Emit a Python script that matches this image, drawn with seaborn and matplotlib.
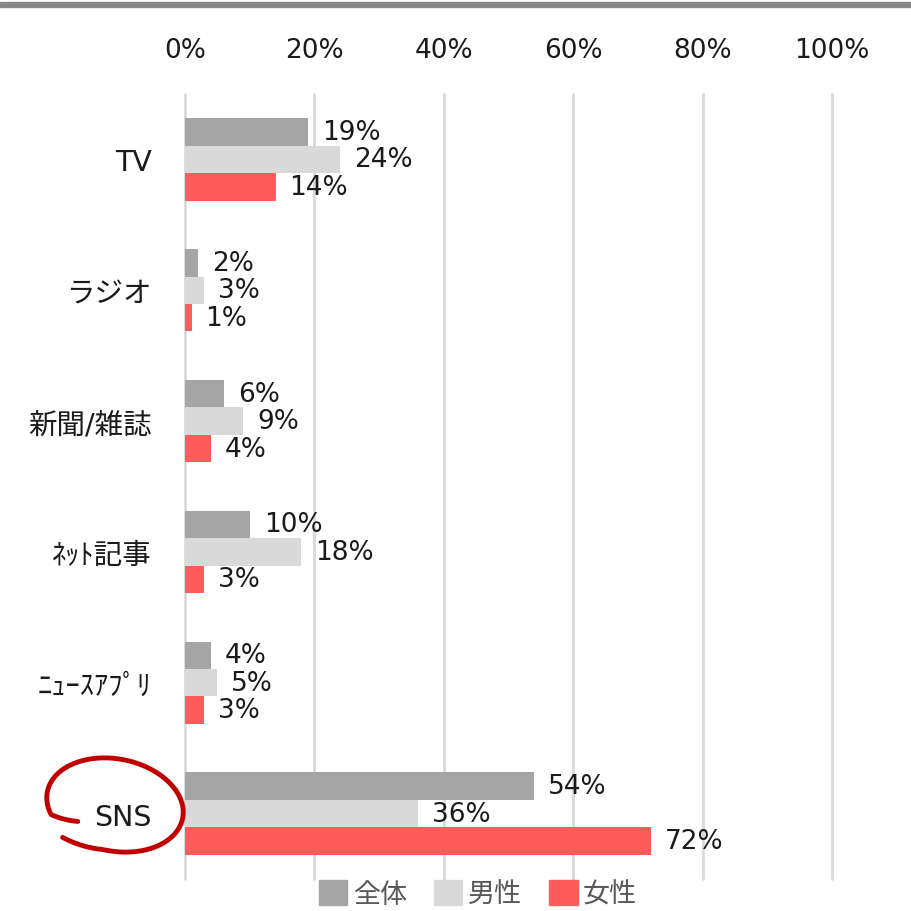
import numpy as np
import pandas as pd
import matplotlib.pyplot as plt
import seaborn as sns
from matplotlib.patches import Rectangle, PathPatch
from matplotlib.path import Path

# データ
categorias = ['TV', 'ラジオ', '新聞/雑誌', 'ﾈｯﾄ記事', 'ﾆｭｰｽｱﾌﾟﾘ', 'SNS']
grupos = ['全体', '男性', '女性']
zentai = [0.19, 0.02, 0.06, 0.10, 0.04, 0.54]
dansei = [0.24, 0.03, 0.09, 0.18, 0.05, 0.36]
josei = [0.14, 0.01, 0.04, 0.03, 0.03, 0.72]
cores = ['#a5a5a5', '#d9d9d9', '#ff5b5b']
xticks = [0, 0.2, 0.4, 0.6, 0.8, 1.0]

df = pd.DataFrame({
    'categoria': categorias * 3,
    'grupo': [g for g in grupos for _ in categorias],
    'valor': zentai + dansei + josei,
})

sns.set_style('white')
plt.rcParams['font.family'] = ['DejaVu Sans', 'Noto Sans CJK JP']

fig = plt.figure(figsize=(9.12, 9.12), dpi=100)
ax = fig.add_axes([0.2029, 0.0351, 0.7094, 0.8607])

sns.barplot(data=df, y='categoria', x='valor', hue='grupo', order=categorias,
            hue_order=grupos, palette=cores, width=0.63, orient='h',
            linewidth=0, saturation=1, legend=False, ax=ax)

# rótulos das barras
for cont in ax.containers:
    vals = cont.datavalues
    ax.bar_label(cont, labels=[f'{v:.0%}' for v in vals], padding=10,
                 fontsize=19, color='#1a1a1a')

ax.set_xlim(0, 1.0)
ax.set_ylim(5.5, -0.5)
ax.set_xticks(xticks)
ax.set_xticklabels([f'{t:.0%}' for t in xticks])
ax.xaxis.tick_top()
ax.tick_params(axis='x', length=0, pad=22.5, labelsize=19, labelcolor='#1a1a1a')
ax.tick_params(axis='y', length=0, pad=24, labelsize=20.5, labelcolor='#1a1a1a')
ax.set_xlabel('')
ax.set_ylabel('')
ax.grid(axis='x', color='#d9d9d9', linewidth=2)
for gl in ax.get_xgridlines():
    gl.set_clip_on(False)
ax.set_axisbelow(True)
for s in ax.spines.values():
    s.set_visible(False)

# legenda
handles = [Rectangle((0, 0), 1, 1, color=c) for c in cores]
leg = fig.legend(handles, grupos, loc='center', bbox_to_anchor=(478 / 912, 1 - 895 / 912),
                 ncol=3, frameon=False, fontsize=19.5, handlelength=1.05, handleheight=1.05,
                 handletextpad=0.2, columnspacing=1.0)
for t in leg.get_texts():
    t.set_color('#595959')

# barra cinza no topo
fig.patches.append(Rectangle((0, 1 - 7.5 / 912), 1, 4.5 / 912, transform=fig.transFigure,
                             color='#888888', zorder=5))

# círculo vermelho em volta de SNS (pixels da figura)
cx, cy = 115, 912 - 806
graus = np.linspace(214, -138, 240)
esc = np.interp(graus, [-138, -105, 196, 214], [1.12, 1.0, 1.0, 0.7])
ang = np.radians(graus)
xr = 68 * esc * np.cos(ang)
yr = 47 * esc * np.sin(ang)
px = cx + xr - 0.12 * yr
py = cy + yr - 0.05 * xr
verts = np.column_stack([px / 912, py / 912])
fig.patches.append(PathPatch(Path(verts), transform=fig.transFigure, fill=False,
                             edgecolor='#c00000', linewidth=3.5, capstyle='round', zorder=6))

fig.savefig('out.png', dpi=100)
